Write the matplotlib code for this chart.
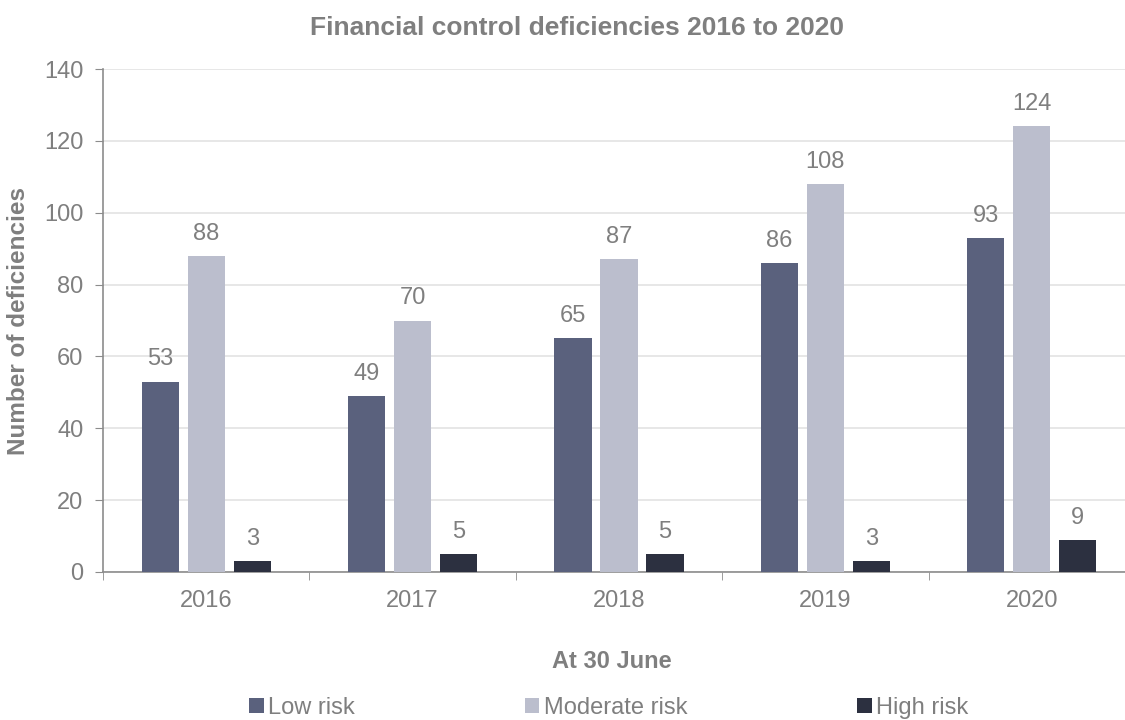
import numpy as np
import matplotlib
matplotlib.use('Agg')
import matplotlib.pyplot as plt

# Deficiency counts at 30 June, by risk rating
years = ['2016', '2017', '2018', '2019', '2020']
low_risk = [53, 49, 65, 86, 93]
moderate_risk = [88, 70, 87, 108, 124]
high_risk = [3, 5, 5, 3, 9]

series = [('Low risk', low_risk, '#5a617d'),
          ('Moderate risk', moderate_risk, '#bbbecd'),
          ('High risk', high_risk, '#2c3040')]

grey = '#7f7f7f'
plt.rcParams['font.family'] = ['Liberation Sans', 'DejaVu Sans']

fig = plt.figure(figsize=(11.25, 7.2), dpi=100)
ax = fig.add_axes([103 / 1125, 148 / 720, 1032 / 1125, 503 / 720])

x = np.arange(len(years))
width = 0.18
step = 0.223

for i, (name, vals, col) in enumerate(series):
    pos = x + (i - 1) * step
    bars = ax.bar(pos, vals, width, color=col, label=name, zorder=3)
    for b, v in zip(bars, vals):
        ax.annotate(str(v), (b.get_x() + b.get_width() / 2, v),
                    xytext=(0, 8), textcoords='offset points',
                    ha='center', va='bottom', fontsize=17, color=grey)

ax.set_xlim(-0.5, len(years) - 0.5)
ax.set_ylim(0, 140)
ax.set_yticks(range(0, 141, 20))
ax.set_xticks(x)
ax.set_xticklabels(years)
ax.set_xticks(np.arange(-0.5, len(years), 1), minor=True)
ax.tick_params(axis='x', which='major', length=0, pad=13, labelsize=17, labelcolor=grey)
ax.tick_params(axis='x', which='minor', length=6, color='#8c8c8c')
ax.tick_params(axis='y', length=6, color='#8c8c8c', labelsize=17, labelcolor=grey, pad=8)

ax.grid(axis='y', color='#e3e3e3', linewidth=1.2, zorder=0)
for s in ['top', 'right']:
    ax.spines[s].set_visible(False)
for s in ['left', 'bottom']:
    ax.spines[s].set_color('#8c8c8c')
    ax.spines[s].set_linewidth(1.2)

ax.set_ylabel('Number of deficiencies', fontsize=17.5, fontweight='bold', color=grey, labelpad=10)
fig.text(577 / 1125, 1 - 28 / 720, 'Financial control deficiencies 2016 to 2020',
         ha='center', va='center', fontsize=19, fontweight='bold', color=grey)
fig.text(612 / 1125, 1 - 662 / 720, 'At 30 June', ha='center', va='center',
         fontsize=17, fontweight='bold', color=grey)

leg = fig.legend(loc='center', bbox_to_anchor=(609 / 1125, 1 - 708 / 720), ncol=3,
                 frameon=False, fontsize=17, handlelength=0.6, handleheight=0.6,
                 handletextpad=0.2, columnspacing=7.2)
for t in leg.get_texts():
    t.set_color(grey)

fig.savefig('out.png', dpi=100)
